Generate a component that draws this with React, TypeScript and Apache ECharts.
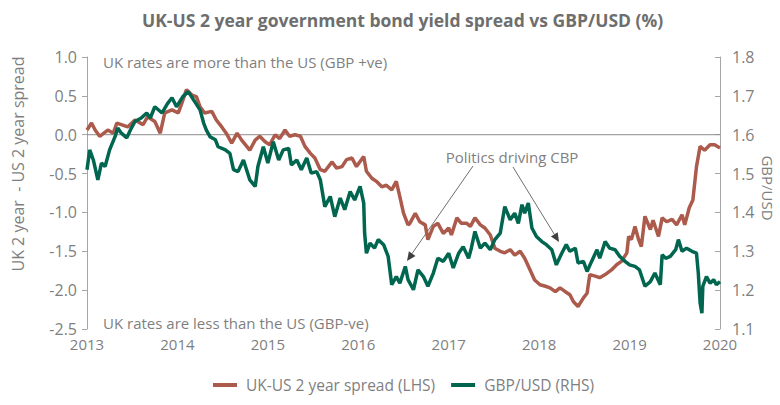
import React, { useEffect, useRef } from "react";
import * as echarts from "echarts";

const titleText = "UK-US 2 year government bond yield spread vs GBP/USD (%)";
const spreadName = "UK-US 2 year spread (LHS)";
const gbpName = "GBP/USD (RHS)";
const leftAxisName = "UK 2 year  - US 2 year spread";
const rightAxisName = "GBP/USD";
const noteTop = "UK rates are more than the US (GBP +ve)";
const noteBottom = "UK rates are less than the US (GBP-ve)";
const notePolitics = "Politics driving CBP";

const yearTicks = [2013, 2014, 2015, 2016, 2017, 2018, 2019, 2020];
const zeroLine = [[2013, 0], [2020, 0]];

const spread = [
[2013.00,0.06],[2013.05,0.15],[2013.09,0.06],[2013.14,-0.02],[2013.23,0.06],[2013.29,0.02],[2013.33,0.15],[2013.38,0.13],[2013.45,0.10],[2013.53,0.19],[2013.62,0.13],[2013.67,0.23],[2013.75,0.17],[2013.81,0.02],[2013.86,0.28],[2013.94,0.32],[2014.01,0.28],[2014.05,0.41],[2014.10,0.58],[2014.16,0.51],[2014.21,0.49],[2014.25,0.36],[2014.30,0.28],[2014.38,0.30],[2014.43,0.19],[2014.49,0.10],[2014.54,0.02],[2014.60,-0.11],[2014.66,0.02],[2014.71,-0.07],[2014.78,-0.17],[2014.80,-0.20],[2014.86,-0.07],[2014.91,-0.02],[2014.97,-0.09],[2015.02,-0.13],[2015.08,0.0],[2015.13,-0.05],[2015.19,0.06],[2015.24,-0.02],[2015.30,0.0],[2015.36,-0.02],[2015.41,-0.15],[2015.47,-0.24],[2015.52,-0.30],[2015.58,-0.45],[2015.63,-0.47],[2015.71,-0.35],[2015.76,-0.43],[2015.82,-0.41],[2015.87,-0.32],[2015.93,-0.30],[2015.98,-0.41],[2016.06,-0.28],[2016.09,-0.47],[2016.15,-0.56],[2016.20,-0.60],[2016.26,-0.67],[2016.31,-0.65],[2016.37,-0.71],[2016.42,-0.60],[2016.46,-0.80],[2016.50,-1.01],[2016.55,-1.16],[2016.57,-1.14],[2016.63,-1.01],[2016.68,-1.12],[2016.74,-1.16],[2016.77,-1.35],[2016.83,-1.18],[2016.88,-1.14],[2016.94,-1.27],[2017.00,-1.20],[2017.03,-1.29],[2017.09,-1.07],[2017.14,-1.14],[2017.20,-1.14],[2017.24,-1.18],[2017.29,-1.07],[2017.35,-1.16],[2017.40,-1.20],[2017.46,-1.29],[2017.51,-1.46],[2017.57,-1.50],[2017.62,-1.52],[2017.68,-1.48],[2017.73,-1.55],[2017.79,-1.50],[2017.84,-1.59],[2017.90,-1.74],[2017.95,-1.87],[2018.01,-1.93],[2018.07,-1.95],[2018.12,-1.97],[2018.18,-2.02],[2018.23,-1.97],[2018.29,-2.02],[2018.34,-2.06],[2018.38,-2.15],[2018.43,-2.21],[2018.49,-2.10],[2018.53,-2.04],[2018.56,-1.80],[2018.62,-1.82],[2018.67,-1.84],[2018.73,-1.80],[2018.80,-1.74],[2018.86,-1.67],[2018.91,-1.63],[2018.97,-1.52],[2018.99,-1.31],[2019.02,-1.35],[2019.06,-1.18],[2019.10,-1.35],[2019.13,-1.44],[2019.17,-1.05],[2019.23,-1.22],[2019.26,-1.10],[2019.32,-1.31],[2019.36,-1.07],[2019.41,-1.12],[2019.47,-1.09],[2019.52,-1.16],[2019.58,-1.03],[2019.61,-1.16],[2019.66,-0.94],[2019.70,-0.84],[2019.74,-0.41],[2019.78,-0.15],[2019.83,-0.20],[2019.89,-0.13],[2019.94,-0.13],[2020.00,-0.17]
];

const gbp = [
[2013.00,1.510],[2013.03,1.561],[2013.07,1.535],[2013.12,1.484],[2013.16,1.527],[2013.20,1.518],[2013.25,1.561],[2013.31,1.595],[2013.34,1.617],[2013.38,1.604],[2013.44,1.592],[2013.48,1.612],[2013.53,1.634],[2013.60,1.643],[2013.66,1.656],[2013.70,1.643],[2013.75,1.672],[2013.83,1.656],[2013.89,1.680],[2013.94,1.695],[2013.99,1.672],[2014.06,1.698],[2014.12,1.711],[2014.18,1.689],[2014.25,1.664],[2014.29,1.630],[2014.32,1.612],[2014.36,1.595],[2014.42,1.587],[2014.45,1.569],[2014.53,1.561],[2014.58,1.552],[2014.62,1.510],[2014.67,1.505],[2014.73,1.535],[2014.80,1.484],[2014.86,1.467],[2014.89,1.518],[2014.95,1.569],[2015.00,1.527],[2015.06,1.582],[2015.12,1.535],[2015.17,1.561],[2015.23,1.565],[2015.26,1.522],[2015.32,1.535],[2015.37,1.510],[2015.43,1.540],[2015.48,1.501],[2015.54,1.505],[2015.58,1.484],[2015.63,1.415],[2015.69,1.441],[2015.74,1.389],[2015.80,1.437],[2015.85,1.407],[2015.91,1.454],[2015.96,1.432],[2016.02,1.467],[2016.06,1.424],[2016.07,1.347],[2016.09,1.295],[2016.13,1.321],[2016.18,1.308],[2016.22,1.330],[2016.28,1.317],[2016.33,1.287],[2016.37,1.214],[2016.42,1.235],[2016.46,1.218],[2016.52,1.261],[2016.55,1.227],[2016.61,1.201],[2016.66,1.252],[2016.72,1.235],[2016.77,1.210],[2016.83,1.244],[2016.88,1.282],[2016.94,1.274],[2017.00,1.295],[2017.05,1.257],[2017.11,1.295],[2017.16,1.312],[2017.22,1.282],[2017.25,1.308],[2017.29,1.351],[2017.35,1.308],[2017.40,1.321],[2017.46,1.304],[2017.51,1.330],[2017.57,1.347],[2017.62,1.415],[2017.68,1.381],[2017.73,1.398],[2017.77,1.372],[2017.81,1.420],[2017.84,1.398],[2017.88,1.424],[2017.92,1.360],[2017.97,1.338],[2018.03,1.325],[2018.08,1.317],[2018.14,1.304],[2018.19,1.265],[2018.25,1.295],[2018.30,1.317],[2018.34,1.300],[2018.40,1.308],[2018.43,1.270],[2018.49,1.274],[2018.53,1.248],[2018.58,1.274],[2018.64,1.304],[2018.67,1.282],[2018.73,1.325],[2018.78,1.308],[2018.84,1.304],[2018.89,1.287],[2018.95,1.274],[2019.00,1.265],[2019.06,1.261],[2019.11,1.252],[2019.17,1.210],[2019.23,1.222],[2019.28,1.244],[2019.34,1.214],[2019.36,1.291],[2019.40,1.282],[2019.45,1.287],[2019.51,1.304],[2019.54,1.330],[2019.58,1.300],[2019.63,1.308],[2019.69,1.300],[2019.74,1.295],[2019.76,1.244],[2019.78,1.167],[2019.80,1.141],[2019.81,1.210],[2019.85,1.235],[2019.89,1.218],[2019.93,1.227],[2019.96,1.214],[2020.00,1.222]
];

const RED = "#AB5A4C";
const GREEN = "#00664F";
const GREY = "#7F7F7F";
const FONT = "Open Sans";

export default function App() {
  const ref = useRef<HTMLDivElement>(null);
  useEffect(() => {
    document.body.style.margin = "0";
    if (!ref.current) return;
    const chart = echarts.init(ref.current, undefined, { renderer: "svg" });
    const arrowLine = { stroke: "#6F6F6F", lineWidth: 1 };
    chart.setOption({
      animation: false,
      textStyle: { fontFamily: FONT },
      title: {
        text: titleText,
        left: 137,
        top: 6,
        textStyle: { fontFamily: FONT, fontSize: 17.5, fontWeight: "bold", color: "#6E6E6E" },
      },
      legend: {
        bottom: 12,
        left: 213,
        padding: 0,
        data: [spreadName, gbpName],
        icon: "rect",
        itemWidth: 24,
        itemHeight: 4,
        itemGap: 16,
        textStyle: { fontFamily: FONT, fontSize: 15.5, color: GREY, padding: [0, 0, 0, 4] },
      },
      grid: { left: 87, right: 60, top: 57, bottom: 76 },
      xAxis: {
        type: "value",
        min: yearTicks[0],
        max: yearTicks[yearTicks.length - 1],
        interval: 1,
        axisLine: { show: false },
        axisTick: { show: false },
        splitLine: { show: false },
        axisLabel: { color: GREY, fontSize: 15, fontFamily: FONT, margin: 7, formatter: (v: number) => String(v) },
      },
      yAxis: [
        {
          type: "value",
          min: -2.5,
          max: 1.0,
          interval: 0.5,
          axisLine: { show: true, lineStyle: { color: "#A6A6A6" } },
          axisTick: { show: true, length: 5, lineStyle: { color: "#A6A6A6" } },
          splitLine: { show: false },
          axisLabel: { color: GREY, fontSize: 16, fontFamily: FONT, margin: 10, formatter: (v: number) => v.toFixed(1) },
        },
        {
          type: "value",
          min: 1.1,
          max: 1.8,
          interval: 0.1,
          position: "right",
          axisLine: { show: true, lineStyle: { color: "#A6A6A6" } },
          axisTick: { show: true, inside: true, length: 5, lineStyle: { color: "#A6A6A6" } },
          splitLine: { show: false },
          axisLabel: { color: GREY, fontSize: 16, fontFamily: FONT, margin: 12, formatter: (v: number) => v.toFixed(1) },
        },
      ],
      series: [
        {
          name: "zero",
          type: "line",
          yAxisIndex: 0,
          data: zeroLine,
          symbol: "none",
          silent: true,
          lineStyle: { color: "#8C8C8C", width: 1 },
          z: 1,
        },
        {
          name: spreadName,
          type: "line",
          yAxisIndex: 0,
          data: spread,
          symbol: "none",
          itemStyle: { color: RED },
          lineStyle: { color: RED, width: 3.5 },
          z: 2,
        },
        {
          name: gbpName,
          type: "line",
          yAxisIndex: 1,
          data: gbp,
          symbol: "none",
          itemStyle: { color: GREEN },
          lineStyle: { color: GREEN, width: 3.5 },
          z: 3,
        },
      ],
      graphic: [
        {
          type: "text",
          x: 18,
          y: 164,
          rotation: Math.PI / 2,
          style: { text: leftAxisName, fill: GREY, font: `16px '${FONT}'`, textAlign: "center", textVerticalAlign: "middle" },
        },
        {
          type: "text",
          x: 768,
          y: 188,
          rotation: -Math.PI / 2,
          style: { text: rightAxisName, fill: GREY, font: `15px '${FONT}'`, textAlign: "center", textVerticalAlign: "middle" },
        },
        {
          type: "text",
          x: 103,
          y: 62,
          style: { text: noteTop, fill: GREY, font: `15px '${FONT}'`, textAlign: "left", textVerticalAlign: "middle" },
        },
        {
          type: "text",
          x: 103,
          y: 323,
          style: { text: noteBottom, fill: GREY, font: `15px '${FONT}'`, textAlign: "left", textVerticalAlign: "middle" },
        },
        {
          type: "text",
          x: 512,
          y: 157,
          style: { text: notePolitics, fill: GREY, font: `15px '${FONT}'`, textAlign: "center", textVerticalAlign: "middle" },
        },
        { type: "line", shape: { x1: 473, y1: 166, x2: 412, y2: 253.6 }, style: arrowLine },
        { type: "polygon", shape: { points: [[407, 261], [415.5, 255.9], [408.9, 251.3]] }, style: { fill: "#404040" } },
        { type: "line", shape: { x1: 513, y1: 167, x2: 554.3, y2: 234.3 }, style: arrowLine },
        { type: "polygon", shape: { points: [[559, 242], [557.7, 232.2], [550.9, 236.4]] }, style: { fill: "#404040" } },
      ],
    });
    return () => chart.dispose();
  }, []);
  return <div ref={ref} style={{ width: 780, height: 405 }} />;
}
